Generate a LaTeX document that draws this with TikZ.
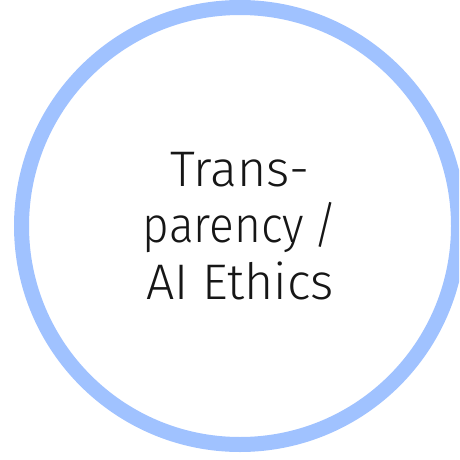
\documentclass[tikz,border=0pt]{standalone}
\usepackage{fontspec}
\setmainfont{Fira Sans Light}
\definecolor{ringblue}{HTML}{A0C2FF}
\definecolor{inkdark}{HTML}{161616}
\begin{document}
\begin{tikzpicture}[x=1pt,y=1pt,
  ring/.style={circle, draw=ringblue, line width=15pt, minimum size=437pt, inner sep=0pt},
  label/.style={align=center, text=inkdark, font=\fontsize{50}{56.5}\selectfont}]
\useasboundingbox (0,0) rectangle (459,-460);
\begin{scope}
\clip (0,0) rectangle (459,-460);
\node[ring] (c) at (240,-226) {};
\end{scope}
\node[label] (t) at (240,-226) {Trans-\\\scalebox{0.92}[1]{parency\hspace{0.2em}/}\\AI Ethics};
\end{tikzpicture}
\end{document}
